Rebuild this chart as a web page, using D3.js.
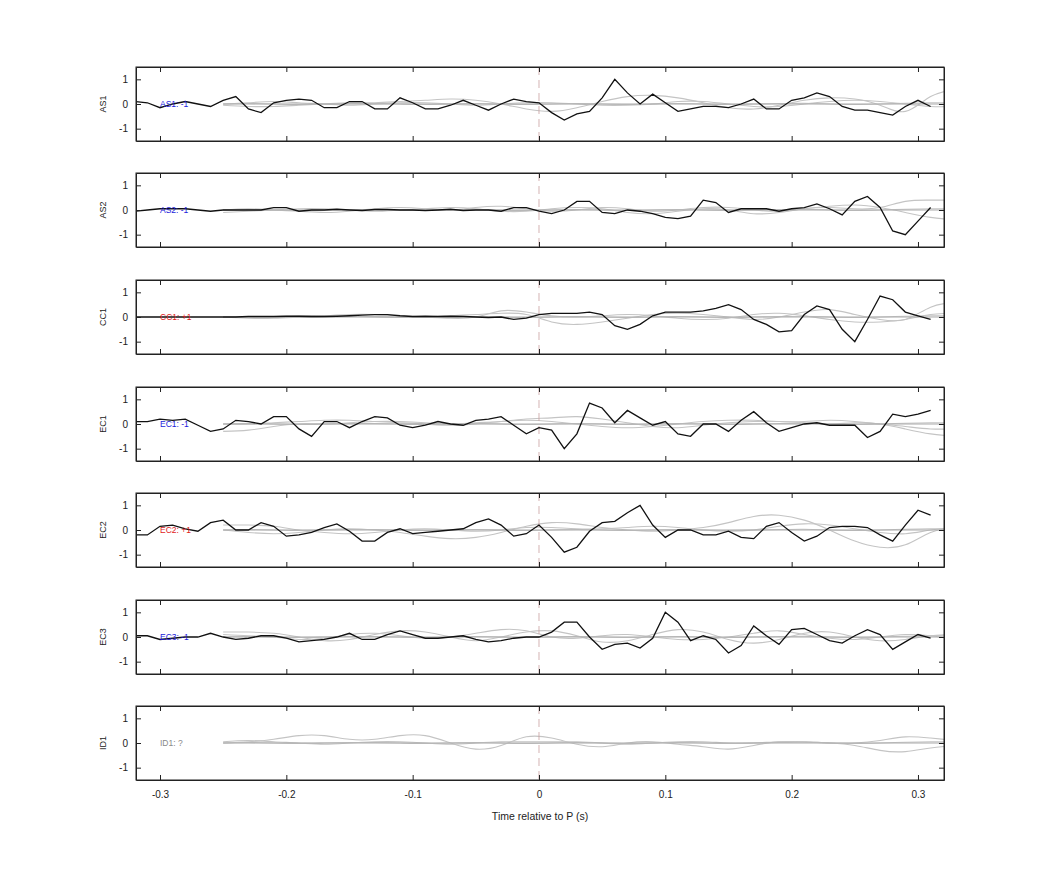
<!DOCTYPE html>
<html><head><meta charset="utf-8">
<script src="https://cdn.jsdelivr.net/npm/d3@7"></script>
<style>body{margin:0;background:#fff;font-family:"Liberation Sans",Arial,sans-serif;}</style>
</head><body><svg id="chart" width="1042" height="875"></svg>
<script>
// channel names, polarity labels, label colours
var channels = ["AS1","AS2","CC1","EC1","EC2","EC3","ID1"];
var polarity = ["-1","-1","+1","-1","+1","-1","?"];
var labelColors = ["#1a1adb","#1a1adb","#e01a1a","#1a1adb","#e01a1a","#1a1adb","#888"];
var xTicks = [-0.3,-0.2,-0.1,0,0.1,0.2,0.3];
var yTicks = [-1,0,1];

// black traces, sampled every 0.01 s from -0.32 to 0.31
var blackT = d3.range(64).map(function(i){return +(-0.32 + i*0.01).toFixed(2);});
var traceAS1 = [0.1,0.05,-0.15,0,0.1,0,-0.1,0.15,0.3,-0.2,-0.35,0.05,0.15,0.2,0.15,-0.15,-0.15,0.1,0.1,-0.2,-0.2,0.25,0.05,-0.2,-0.2,-0.05,0.15,-0.05,-0.25,0,0.2,0.1,
  0.05,-0.35,-0.65,-0.4,-0.3,0.25,1.0,0.45,0,0.4,0.05,-0.3,-0.2,-0.1,-0.1,-0.15,0,0.2,-0.2,-0.2,0.15,0.25,0.45,0.3,-0.1,-0.25,-0.25,-0.35,-0.45,-0.1,0.15,-0.1];
var traceAS2 = [-0.05,0,0.05,0.05,0.05,0,-0.05,0,0,0,0,0.1,0.1,-0.05,0,0,0.03,0,-0.02,0.02,0.02,0,0,-0.02,0,0.03,-0.02,0,0,-0.05,0.1,0.1,
  -0.05,-0.15,0,0.35,0.35,-0.1,-0.15,0,-0.05,-0.15,-0.3,-0.35,-0.25,0.4,0.3,-0.1,0.05,0.05,0.05,-0.05,0.05,0.1,0.25,0.05,-0.2,0.35,0.55,0.1,-0.85,-1.0,-0.45,0.1];
var traceCC1 = [0,0,0,0,0,0,0,0,0,0.02,0.02,0.02,0.03,0.03,0.02,0.02,0.03,0.05,0.08,0.1,0.1,0.05,0.02,0.03,0.02,0.03,0.02,0,-0.02,0,-0.1,-0.05,
  0.1,0.15,0.15,0.15,0.2,0.1,-0.35,-0.5,-0.3,0.05,0.2,0.2,0.2,0.25,0.35,0.5,0.3,-0.1,-0.3,-0.6,-0.55,0.1,0.45,0.3,-0.5,-1.0,-0.1,0.85,0.7,0.2,0.05,-0.1];
var traceEC1 = [0.1,0.1,0.2,0.15,0.2,-0.05,-0.3,-0.2,0.15,0.1,0,0.3,0.3,-0.2,-0.5,0.1,0.1,-0.15,0.1,0.3,0.25,-0.05,-0.15,-0.05,0.1,0,-0.05,0.15,0.2,0.3,-0.05,-0.4,
  -0.15,-0.25,-1.0,-0.4,0.85,0.65,0.05,0.55,0.25,-0.05,0.1,-0.4,-0.5,0,0,-0.3,0.15,0.5,0.05,-0.3,-0.15,0,0.05,-0.05,-0.05,-0.05,-0.55,-0.3,0.4,0.3,0.4,0.55];
var traceEC2 = [-0.2,-0.2,0.15,0.2,0.05,-0.05,0.3,0.4,0,0,0.3,0.15,-0.25,-0.2,-0.1,0.1,0.25,-0.05,-0.45,-0.45,-0.1,0.05,-0.15,-0.1,-0.05,0,0.05,0.3,0.45,0.2,-0.25,-0.15,
  0.2,-0.3,-0.9,-0.7,-0.05,0.3,0.35,0.7,1.0,0.2,-0.3,0,0,-0.2,-0.2,-0.05,-0.3,-0.35,0.15,0.3,-0.1,-0.45,-0.25,0.1,0.15,0.15,0.1,-0.2,-0.45,0.2,0.8,0.6];
var traceEC3 = [0.05,0.05,-0.1,-0.05,0,0,0.15,0,-0.1,-0.05,0.05,0.05,-0.05,-0.2,-0.15,-0.1,0,0.15,-0.1,-0.1,0.1,0.25,0.1,-0.05,-0.05,0,0.05,-0.1,-0.2,-0.15,-0.05,0,
  0,0.2,0.6,0.6,0,-0.5,-0.3,-0.25,-0.45,-0.05,1.0,0.6,-0.15,0.05,-0.1,-0.65,-0.35,0.45,0.05,-0.3,0.3,0.35,0.1,-0.15,-0.25,0.05,0.3,0.1,-0.5,-0.2,0.1,-0.05];
var blackTraces = [traceAS1,traceAS2,traceCC1,traceEC1,traceEC2,traceEC3,null];

// grey (filtered) traces, sampled every 0.02 s from -0.25 to 0.33
var grayT = d3.range(30).map(function(i){return +(-0.25 + i*0.02).toFixed(2);});
var grayFlat = [0,0.02,0,-0.02,0,0.02,0.02,0,-0.02,0,0.02,0,-0.02,0,0.02,0,-0.02,0,0.02,0,-0.02,0,0.02,0.03,0,-0.02,0,0.03,0.05,0.05];
var grayAS1 = [
  [-0.05,-0.1,-0.1,-0.05,0,0.05,0.05,0.1,0.15,0.2,0.15,0,-0.2,-0.3,-0.15,0.1,0.3,0.35,0.25,0.05,-0.15,-0.2,-0.05,0.15,0.25,0.2,-0.05,-0.3,0.3,0.6],
  [0,0.05,0.1,0.05,0,-0.05,0,0.05,0.05,0,-0.05,0,0.05,0.05,0,-0.05,-0.05,0,0.1,0.1,0,-0.1,-0.1,0,0.1,0.15,0.1,0,-0.1,-0.1]];
var grayAS2 = [
  [-0.1,-0.05,0,0.05,0.05,0,-0.05,0,0.05,0.1,0.05,-0.05,-0.05,0.05,0.1,0.05,-0.1,-0.15,-0.05,0.05,0,-0.15,-0.1,0.05,0.1,0.05,0.1,0.35,0.4,0.4],
  [0,0.05,0,-0.05,-0.1,-0.05,0.05,0.1,0.05,0,0.1,0.15,0.05,-0.05,0,0.1,0.05,-0.05,0,0.1,0.1,0,-0.05,0.05,0.15,0.2,0.1,-0.1,-0.3,-0.4]];
var grayCC1 = [
  [0,0,0.02,0.05,0.05,0.03,0,-0.02,0,0.05,0.1,0.15,0.1,-0.2,-0.3,-0.2,-0.05,0.1,0.15,0.1,0,-0.1,0,0.2,0.3,0.1,-0.1,-0.1,0.4,0.6],
  [0,-0.05,-0.05,0,0.05,0.1,0.1,0.05,0,-0.05,0,0.25,0.2,0.05,0,0.05,0.1,0.05,-0.05,-0.1,-0.05,0.1,0.15,0.05,-0.1,-0.2,-0.2,-0.1,0.1,0.15]];
var grayEC1 = [
  [-0.3,-0.25,-0.1,0,0,0.05,0.1,0.1,0.05,0,0.05,0.1,0.2,0.25,0.3,0.2,0.05,-0.1,-0.15,-0.05,0.05,0.1,0.1,0.05,0,0.05,0,-0.2,-0.4,-0.5],
  [0,0,0.05,0.1,0.15,0.15,0.1,0.05,0,-0.05,0,0.1,0.15,0.1,0,-0.1,-0.15,-0.1,0,0.1,0.15,0.15,0.1,0.1,0.15,0.1,0,-0.1,-0.2,-0.2]];
var grayEC2 = [
  [0,-0.1,-0.15,-0.1,0,0.05,0,-0.1,-0.25,-0.35,-0.3,-0.1,0.15,0.3,0.25,0.1,0,-0.05,0,0.1,0.3,0.55,0.6,0.4,0,-0.45,-0.7,-0.6,-0.1,0.1],
  [0.2,0.2,0.15,0,-0.1,-0.15,-0.1,0,0.05,0,-0.05,0,0.1,0.1,0.05,0.05,0.1,0.15,0.1,0,-0.05,0,0.15,0.25,0.2,0.05,-0.1,-0.15,0,0.1]];
var grayEC3 = [
  [0.2,0.2,0.15,0,-0.15,-0.1,0.1,0.25,0.2,0,-0.15,0,0.2,0.25,0.05,-0.2,-0.15,0.1,0.3,0.2,-0.1,-0.25,-0.1,0.15,0.2,0,-0.15,-0.1,0.05,0.1],
  [0.1,0.05,0,-0.1,-0.05,0.1,0.15,0.05,-0.05,0,0.15,0.3,0.25,0,-0.05,0.05,0.1,0,-0.1,-0.1,0,0.15,0.25,0.1,-0.05,-0.1,0,0.1,0.05,-0.1]];
var grayID1 = [
  [0,0.05,0.15,0.3,0.3,0.15,0.15,0.3,0.3,0,-0.25,-0.1,0.25,0.2,-0.05,-0.15,0,0.05,-0.05,-0.15,-0.25,-0.1,0.05,0.05,0,-0.1,-0.3,-0.35,-0.2,-0.1],
  [0.05,0.1,0.05,0,-0.05,0,0.05,0.05,0,-0.05,0,0.05,0.05,0.05,0.05,0,-0.05,0,0.05,0.05,0,0,0.05,0.05,0,0,0.1,0.25,0.2,0.1]];
var grayTraces = [grayAS1,grayAS2,grayCC1,grayEC1,grayEC2,grayEC3,grayID1];

var svg = d3.select("#chart");
var left = 136, right = 944, panelH = 74;
var panelTops = [67,173,280,387,493,600,706];

var x = d3.scaleLinear().domain([-0.319,0.3206]).range([left,right]);
var plainFmt = function(d){return String(d);};//keep the hyphen minus as in the original

channels.forEach(function(name, k){
    var top = panelTops[k];
    var y = d3.scaleLinear().domain([-1.5,1.5]).range([top+panelH, top]);
    var g = svg.append("g");

    var clipId = "clip"+k;
    g.append("clipPath").attr("id", clipId).append("rect")
	.attr("x", left).attr("y", top).attr("width", right-left).attr("height", panelH);

    var plot = g.append("g").attr("clip-path", "url(#"+clipId+")");
    var line = d3.line().x(function(d){return x(d[0]);}).y(function(d){return y(d[1]);});
    var smooth = d3.line().curve(d3.curveNatural).x(function(d){return x(d[0]);}).y(function(d){return y(d[1]);});

    // grey filtered traces
    grayTraces[k].concat([grayFlat]).forEach(function(arr){
	plot.append("path").datum(grayT.map(function(t,i){return [t, arr[i]];}))
	    .attr("d", smooth).attr("fill","none").attr("stroke","#c4c4c4").attr("stroke-width",1.1);
    });
    plot.append("line").attr("x1", x(-0.25)).attr("x2", right).attr("y1", y(0)).attr("y2", y(0))
	.attr("stroke","#aaa").attr("stroke-width",1);

    // zero-time marker
    plot.append("line").attr("x1", x(0)).attr("x2", x(0)).attr("y1", top).attr("y2", top+panelH)
	.attr("stroke","#c9a0a0").attr("stroke-width",0.8).attr("stroke-dasharray","8,5");

    // label
    g.append("text").attr("x", 160).attr("y", y(0)+3).attr("font-size",8.5)
	.attr("fill", labelColors[k]).text(name+": "+polarity[k]);

    if(blackTraces[k]){
	plot.append("path").datum(blackT.map(function(t,i){return [t, blackTraces[k][i]];}))
	    .attr("d", line).attr("fill","none").attr("stroke","#111").attr("stroke-width",1.3);
    }

    // axes box with inward ticks on all sides
    var bottomAx = g.append("g").attr("transform","translate(0,"+(top+panelH)+")")
	.call(d3.axisBottom(x).tickValues(xTicks).tickSizeInner(-5).tickSizeOuter(0).tickFormat(k==6 ? plainFmt : ""));
    var topAx = g.append("g").attr("transform","translate(0,"+top+")")
	.call(d3.axisTop(x).tickValues(xTicks).tickSizeInner(-5).tickSizeOuter(0).tickFormat(""));
    var leftAx = g.append("g").attr("transform","translate("+left+",0)")
	.call(d3.axisLeft(y).tickValues(yTicks).tickSizeInner(-5).tickSizeOuter(0).tickFormat(plainFmt).tickPadding(8));
    var rightAx = g.append("g").attr("transform","translate("+right+",0)")
	.call(d3.axisRight(y).tickValues(yTicks).tickSizeInner(-5).tickSizeOuter(0).tickFormat(""));
    [bottomAx,topAx,leftAx,rightAx].forEach(function(a){
	a.select(".domain").attr("stroke","#222");
	a.selectAll(".tick line").attr("stroke","#222");
	a.selectAll("text").attr("font-size",10).attr("fill","#222").attr("font-family","Liberation Sans, Arial, sans-serif");
    });
    bottomAx.selectAll("text").attr("dy","1.5em");
    g.append("rect").attr("x",left).attr("y",top).attr("width",right-left).attr("height",panelH)
	.attr("fill","none").attr("stroke","#222").attr("stroke-width",1);

    g.append("text").attr("transform","translate(106,"+y(0)+") rotate(-90)")
	.attr("text-anchor","middle").attr("font-size",9).attr("fill","#222").text(name);
});

svg.append("text").attr("x", 540).attr("y", 820).attr("text-anchor","middle")
    .attr("font-size",10.5).attr("fill","#222").text("Time relative to P (s)");
</script>
</body></html>
